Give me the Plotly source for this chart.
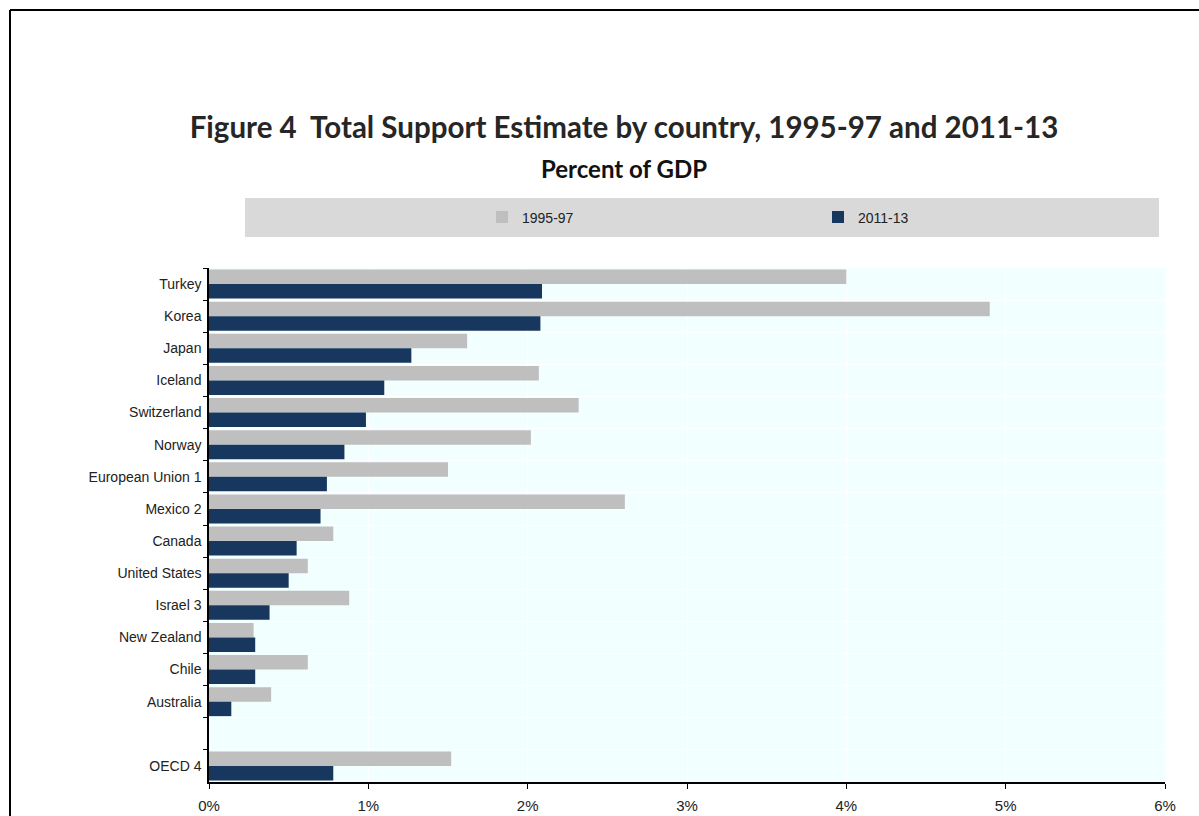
import plotly.graph_objects as go

countries = ["Turkey", "Korea", "Japan", "Iceland", "Switzerland", "Norway",
             "European Union 1", "Mexico 2", "Canada", "United States", "Israel 3",
             "New Zealand", "Chile", "Australia", " ", "OECD 4"]
tse_1995_97 = [4.00, 4.90, 1.62, 2.07, 2.32, 2.02, 1.50, 2.61, 0.78, 0.62, 0.88,
               0.28, 0.62, 0.39, None, 1.52]
tse_2011_13 = [2.09, 2.08, 1.27, 1.10, 0.985, 0.85, 0.74, 0.70, 0.55, 0.50, 0.38,
               0.29, 0.29, 0.14, None, 0.78]
x_ticks = [0, 1, 2, 3, 4, 5, 6]
x_tick_labels = ["0%", "1%", "2%", "3%", "4%", "5%", "6%"]

OFF = 0  # body margin removed via post_script
W, H = 1199, 816
L, T = 209 - OFF, 268 - OFF
R = W - (1165 - OFF)
B = H - (782 - OFF)
pw, ph = W - L - R, H - T - B

def px(xs):
    return (xs - OFF - L) / pw

def py(ys):
    return (H - B - (ys - OFF)) / ph

def cx(xs):
    return (xs - OFF) / W

def cy(ys):
    return 1 - (ys - OFF) / H

lab_font = "Liberation Sans, Arial, sans-serif"

fig = go.Figure()
fig.add_trace(go.Bar(y=countries, x=tse_1995_97, orientation="h", name="1995-97",
                     marker=dict(color="#BFBFBF", line=dict(width=0))))
fig.add_trace(go.Bar(y=countries, x=tse_2011_13, orientation="h", name="2011-13",
                     marker=dict(color="#17375E", line=dict(width=0))))

fig.update_layout(
    width=W, height=H,
    margin=dict(l=L, r=R, t=T, b=B, autoexpand=False),
    paper_bgcolor="white",
    plot_bgcolor="#F2FFFF",
    barmode="group", bargap=0.1, bargroupgap=0,
    font=dict(family=lab_font, size=14, color="#222222"),
    title=dict(text="<b>Figure 4  Total Support Estimate by country, 1995-97 and 2011-13</b>",
               x=cx(624), xanchor="center", y=cy(128), yanchor="middle",
               xref="container", yref="container",
               font=dict(family="Lato, Open Sans, sans-serif", size=29.5, color="#262626")),
    showlegend=True,
    legend=dict(orientation="h", xref="container", yref="container",
                x=cx(482), xanchor="left", y=cy(217.5), yanchor="middle",
                bgcolor="rgba(0,0,0,0)", entrywidth=291, entrywidthmode="pixels",
                itemwidth=30, font=dict(family=lab_font, size=14, color="#222222"),
                traceorder="normal"),
    xaxis=dict(range=[0, 6], tickvals=x_ticks, ticktext=x_tick_labels, automargin=False,
               showgrid=True, gridcolor="white", gridwidth=1,
               showline=True, linecolor="black", linewidth=1.5,
               ticks="outside", ticklen=5, tickcolor="black", zeroline=False,
               ticklabelstandoff=4,
               tickfont=dict(family=lab_font, size=15, color="#222222")),
    yaxis=dict(categoryorder="array", categoryarray=countries, autorange="reversed",
               automargin=False,
               showgrid=True, gridcolor="white", gridwidth=1,
               showline=True, linecolor="black", linewidth=1.5,
               ticks="outside", ticklen=4, tickcolor="black", tickson="boundaries",
               ticklabelstandoff=3,
               tickfont=dict(family=lab_font, size=14, color="#222222")),
    shapes=[
        dict(type="rect", xref="paper", yref="paper", x0=px(245), x1=px(1159),
             y0=py(237), y1=py(198), fillcolor="#D9D9D9", line=dict(width=0), layer="below"),
        dict(type="line", xref="paper", yref="paper", x0=px(10), x1=px(10),
             y0=py(10), y1=py(830), line=dict(color="black", width=2)),
        dict(type="line", xref="paper", yref="paper", x0=px(10), x1=px(1215),
             y0=py(10), y1=py(10), line=dict(color="black", width=2)),
    ],
    annotations=[
        dict(text="<b>Percent of GDP</b>", xref="paper", yref="paper",
             x=px(624), y=py(168), xanchor="center", yanchor="middle", showarrow=False,
             font=dict(family="Lato, Open Sans, sans-serif", size=24, color="#111111")),
    ],
)

fig.write_html(
    "out.html",
    config={"displayModeBar": False},
    post_script="document.body.style.margin='0';document.body.style.overflow='hidden';",
)
